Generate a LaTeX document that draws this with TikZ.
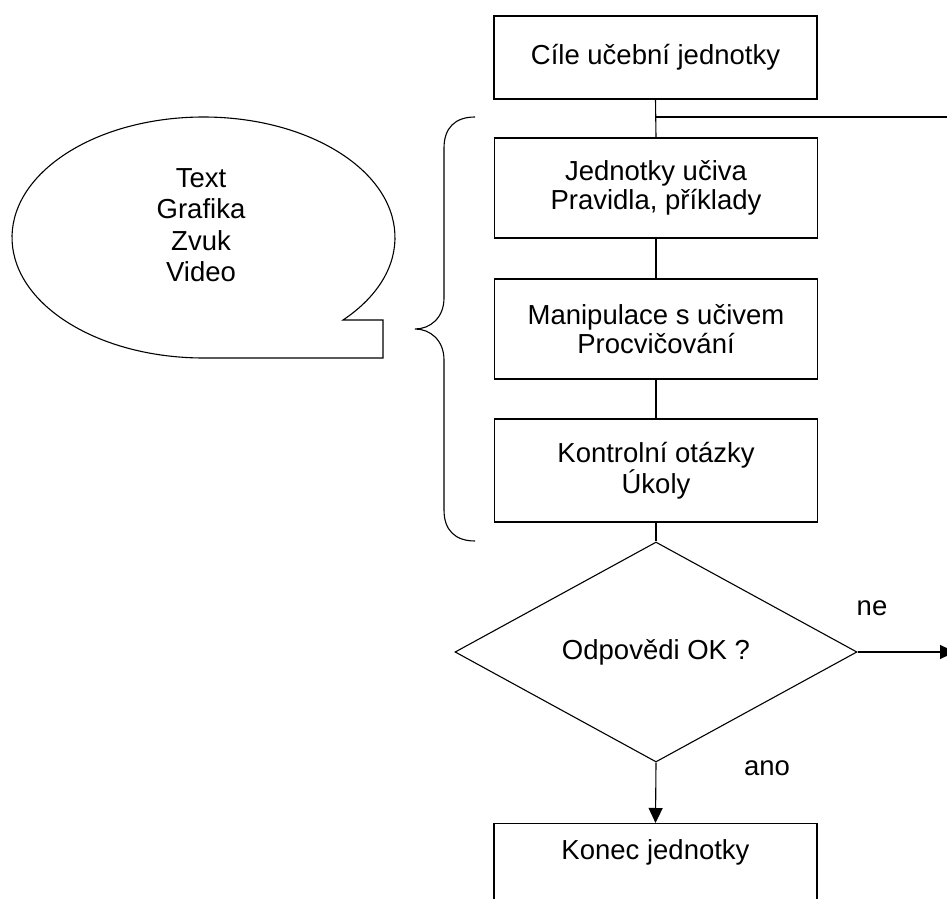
\documentclass[tikz,border=0pt]{standalone}
\usepackage{fontspec}
\setmainfont{Liberation Sans}
\usetikzlibrary{shapes.geometric,arrows.meta}
\begin{document}
\begin{tikzpicture}[x=1pt,y=1pt,
  conn/.style={line width=1.1pt, draw=black},
  arr/.style={conn, -{Triangle[length=15pt,width=14pt]}},
  txt/.style={font=\fontsize{27.5}{29}\selectfont, inner sep=0pt, align=center},
  flowbox/.style={txt, draw, line width=1.1pt, minimum width=323pt},
  decision/.style={txt, draw, line width=1.1pt, diamond, aspect=1.83,
    minimum width=402pt, minimum height=220pt}]
\clip (0,0) rectangle (947,898);

% main flow
\node[flowbox, minimum height=83pt]  (goals)  at (655.5,840.5) {Cíle učební jednotky};
\node[flowbox, minimum height=100pt] (units)  at (656,710)     {Jednotky učiva\\Pravidla, příklady};
\node[flowbox, minimum height=100pt] (drill)  at (656,569)     {Manipulace s učivem\\Procvičování};
\node[flowbox, minimum height=103pt] (check)  at (656,427.5)   {Kontrolní otázky\\Úkoly};
\node[decision] (ok) at (656,246) {Odpovědi OK ?};
\node[flowbox, anchor=north, minimum height=83pt, text height=20pt, text depth=31pt]
  (finish) at (655.5,75) {Konec jednotky};

% branch labels
\node[txt] (no)  at (872,290) {ne};
\node[txt] (yes) at (767,130) {ano};

% connectors
\coordinate (split) at (656,781);
\coordinate (loopout) at (947,781);
\coordinate (failout) at (955,246);
\draw[conn] (goals.south) -- (units.north);
\draw[conn] (split) -- (loopout);
\draw[conn] (units.south) -- (drill.north);
\draw[conn] (drill.south) -- (check.north);
\draw[conn] (check.south) -- (ok.north);
\draw[arr] (ok.south) -- (finish.north);
\draw[arr] (ok.east) -- (failout);

% brace grouping the learning steps
\draw[conn] (475,781) .. controls (455,781) and (444,770) .. (444,750)
  -- (444,600) .. controls (444,580) and (430,569) .. (415,569)
  .. controls (430,569) and (444,558) .. (444,538)
  -- (444,388) .. controls (444,368) and (455,357) .. (475,357);

% speech bubble with media types
\draw[conn] (203.5,660.5) ++(-43.2:191.5pt and 120.5pt)
  arc[start angle=-43.2, end angle=270, x radius=191.5pt, y radius=120.5pt]
  -- (383,540) -- (383,578) -- cycle;
\node[txt, font=\fontsize{27.5}{31.5}\selectfont] (media) at (201,673) {Text\\Grafika\\Zvuk\\Video};
\end{tikzpicture}
\end{document}
